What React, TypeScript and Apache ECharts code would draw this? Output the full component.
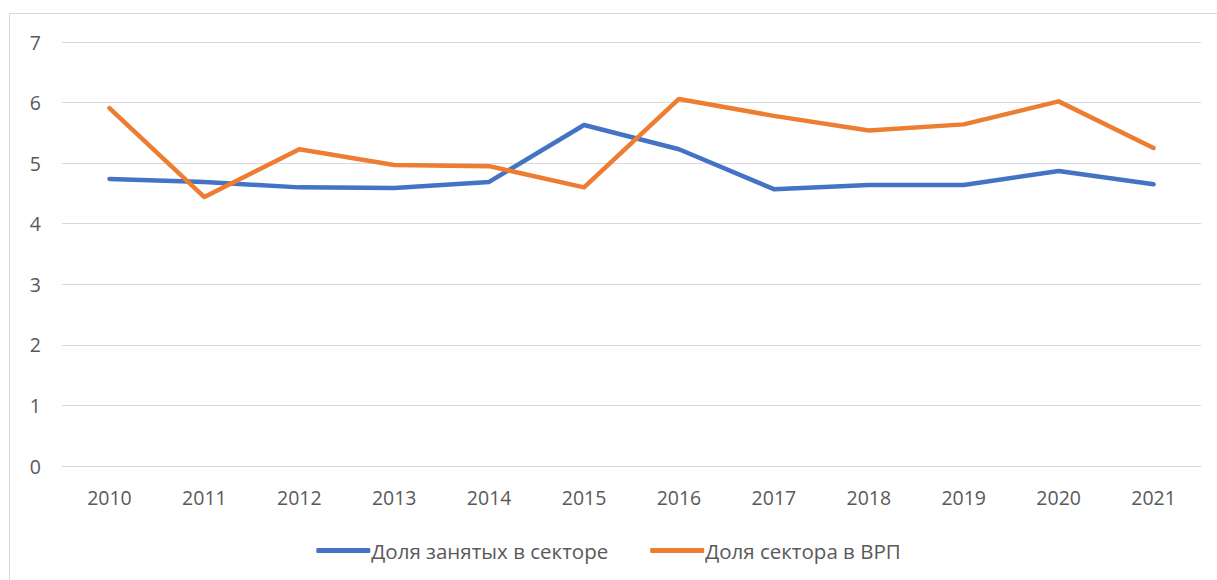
import React, { useEffect, useRef } from "react";
import * as echarts from "echarts";

const categories = ["2010", "2011", "2012", "2013", "2014", "2015", "2016", "2017", "2018", "2019", "2020", "2021"];
const employedShare = [4.74, 4.69, 4.6, 4.59, 4.69, 5.63, 5.23, 4.57, 4.64, 4.64, 4.87, 4.65];
const grpShare = [5.91, 4.44, 5.23, 4.97, 4.95, 4.6, 6.06, 5.78, 5.54, 5.64, 6.02, 5.25];
const seriesNames = ["Доля занятых в секторе", "Доля сектора в ВРП"];

export default function App() {
  const ref = useRef<HTMLDivElement>(null);
  useEffect(() => {
    const chart = echarts.init(ref.current!, null, { renderer: "svg" });
    const font = "Open Sans";
    chart.setOption({
      animation: false,
      backgroundColor: "#ffffff",
      graphic: [
        {
          type: "rect",
          shape: { x: 9.5, y: 13.5, width: 1240, height: 600 },
          style: { fill: "none", stroke: "#d9d9d9", lineWidth: 1 },
          silent: true,
          z: -1,
        },
      ],
      grid: { left: 62, right: 16, top: 42, bottom: 114, containLabel: false },
      legend: {
        top: 535,
        left: "center",
        itemWidth: 54,
        itemHeight: 5,
        itemGap: 42,
        icon: "roundRect",
        textStyle: { fontFamily: font, fontSize: 20.5, color: "#595959", padding: [0, 0, 0, -4] },
        data: seriesNames,
      },
      xAxis: {
        type: "category",
        data: categories,
        boundaryGap: true,
        axisLine: { show: true, lineStyle: { color: "#d9d9d9", width: 1 } },
        axisTick: { show: false },
        axisLabel: { fontFamily: font, fontSize: 19.5, color: "#595959", margin: 21 },
      },
      yAxis: {
        type: "value",
        min: 0,
        max: 7,
        interval: 1,
        axisLine: { show: false },
        axisTick: { show: false },
        splitLine: { lineStyle: { color: "#d9d9d9", width: 1 } },
        axisLabel: { fontFamily: font, fontSize: 19.5, color: "#595959", margin: 21 },
      },
      series: [
        {
          name: seriesNames[0],
          type: "line",
          data: employedShare,
          symbol: "none",
          lineStyle: { color: "#4472C4", width: 4.5, cap: "round", join: "round" },
          itemStyle: { color: "#4472C4" },
        },
        {
          name: seriesNames[1],
          type: "line",
          data: grpShare,
          symbol: "none",
          lineStyle: { color: "#ED7D31", width: 4.5, cap: "round", join: "round" },
          itemStyle: { color: "#ED7D31" },
        },
      ],
    });
    return () => chart.dispose();
  }, []);
  return (
    <div
      ref={ref}
      style={{ position: "fixed", left: 0, top: 0, width: 1217, height: 580, background: "#fff" }}
    />
  );
}
